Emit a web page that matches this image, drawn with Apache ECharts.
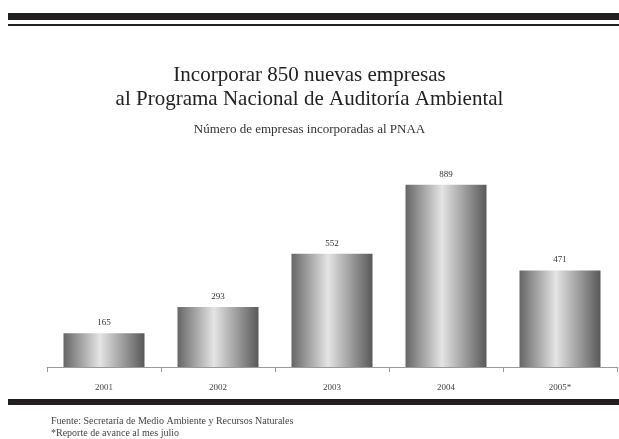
<!DOCTYPE html>
<html>
<head>
<meta charset="utf-8">
<script src="https://cdn.jsdelivr.net/npm/echarts@6/dist/echarts.min.js"></script>
<style>
  html, body { margin: 0; padding: 0; background: #fff; }
  #chart { width: 619px; height: 439px; }
</style>
</head>
<body>
<div id="chart"></div>
<script>
// datos
var years = ['2001', '2002', '2003', '2004', '2005*'];
var empresas = [165, 293, 552, 889, 471];

var serif = '"Liberation Serif", "DejaVu Serif", serif';

// degradado tipo cilindro para las barras
var barColor = new echarts.graphic.LinearGradient(0, 0, 1, 0, [
    { offset: 0, color: '#666666' },
    { offset: 0.45, color: '#e4e4e4' },
    { offset: 1, color: '#595959' }
]);

var dom = document.getElementById('chart');
var myChart = echarts.init(dom);

var option = {
    backgroundColor: '#ffffff',
    animation: false,
    title: [
        {
            text: 'Incorporar 850 nuevas empresas',
            left: 'center',
            top: 60,
            textStyle: { fontFamily: serif, fontWeight: 'normal', fontSize: 21, color: '#222' }
        },
        {
            text: 'al Programa Nacional de Auditoría Ambiental',
            left: 'center',
            top: 84,
            textStyle: { fontFamily: serif, fontWeight: 'normal', fontSize: 21, color: '#222' }
        },
        {
            text: 'Número de empresas incorporadas al PNAA',
            left: 'center',
            top: 118,
            textStyle: { fontFamily: serif, fontWeight: 'normal', fontSize: 13, color: '#333' }
        },
        {
            text: 'Fuente: Secretaría de Medio Ambiente y Recursos Naturales\n*Reporte de avance al mes julio',
            left: 46,
            top: 410,
            textStyle: {
                fontFamily: serif,
                fontWeight: 'normal',
                fontSize: 10,
                lineHeight: 12,
                color: '#444'
            }
        }
    ],
    graphic: [
        { type: 'rect', shape: { x: 8, y: 13, width: 611, height: 7 }, style: { fill: '#231f20' } },
        { type: 'rect', shape: { x: 8, y: 24, width: 611, height: 2 }, style: { fill: '#231f20' } },
        { type: 'rect', shape: { x: 8, y: 399, width: 611, height: 6 }, style: { fill: '#231f20' } }
    ],
    grid: {
        left: 47,
        right: 2,
        top: 162,
        bottom: 72
    },
    xAxis: {
        type: 'category',
        data: years,
        axisLine: { lineStyle: { color: '#999', width: 1 } },
        axisTick: { show: true, length: 5, lineStyle: { color: '#999' } },
        axisLabel: {
            fontFamily: serif,
            fontSize: 9,
            color: '#444',
            margin: 16
        }
    },
    yAxis: {
        type: 'value',
        min: 0,
        max: 1000,
        show: false,
        splitLine: { show: false }
    },
    series: [
        {
            type: 'bar',
            data: empresas,
            barWidth: 81,
            itemStyle: { color: barColor },
            label: {
                show: true,
                position: 'top',
                distance: 6,
                fontFamily: serif,
                fontSize: 9,
                color: '#333'
            }
        }
    ]
};

myChart.setOption(option);
</script>
</body>
</html>
